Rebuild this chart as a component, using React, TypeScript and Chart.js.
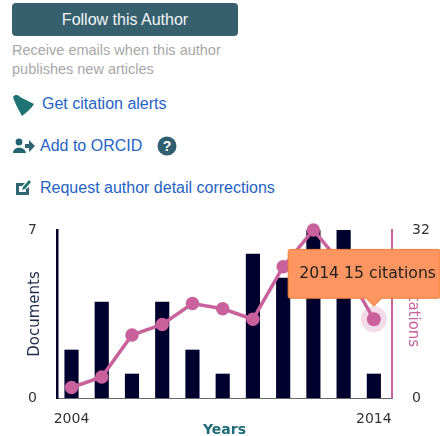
import React, { useEffect, useRef } from "react";
import { Chart, registerables } from "chart.js";

Chart.register(...registerables);

const years = [2004, 2005, 2006, 2007, 2008, 2009, 2010, 2011, 2012, 2013, 2014];
const documents = [2, 4, 1, 4, 2, 1, 6, 5, 7, 7, 1];
const citations = [2, 4, 12, 14, 18, 17, 15, 25, 32, 25, 15];
const leftTicks = [0, 7];
const rightTicks = [0, 32];
const xTicks = [2004, 2014];

const NAVY = "#00002e";
const PINK = "#c9619c";
const UI = '"Liberation Sans", Arial, sans-serif';
const CHART_FONT = '"DejaVu Sans", sans-serif';
const LINK = "#2563c4";

const text = (x: number, y: number, size: number, color: string): React.CSSProperties => ({
  position: "absolute",
  left: x,
  top: y,
  fontFamily: UI,
  fontSize: size,
  lineHeight: "20px",
  color,
  whiteSpace: "nowrap",
});

export default function App() {
  const ref = useRef<HTMLCanvasElement>(null);

  useEffect(() => {
    const fix = (w: number) => (s: any) => {
      s.width = w;
      s.paddingTop = 8;
      s.paddingBottom = 8;
    };
    const chart = new Chart(ref.current!, {
      type: "bar",
      data: {
        labels: years,
        datasets: [
          {
            type: "line",
            label: "Citations",
            data: years.map((y, i) => ({ x: y, y: citations[i] })),
            yAxisID: "y1",
            borderColor: PINK,
            backgroundColor: PINK,
            borderWidth: 3.5,
            pointRadius: 5,
            pointBackgroundColor: PINK,
            pointBorderColor: PINK,
            pointHoverRadius: 7,
            pointHoverBackgroundColor: PINK,
            pointHoverBorderColor: "rgba(201,97,156,0.22)",
            pointHoverBorderWidth: 12,
            tension: 0,
            clip: false,
            order: 1,
          },
          {
            type: "bar",
            label: "Documents",
            data: years.map((y, i) => ({ x: y, y: documents[i] })),
            yAxisID: "y",
            backgroundColor: NAVY,
            barThickness: 13.5,
            order: 2,
          },
        ],
      } as any,
      options: {
        animation: false,
        responsive: false,
        events: [],
        layout: { padding: { top: 15, left: 20, right: 8, bottom: 1 } },
        scales: {
          x: {
            type: "linear",
            offset: false,
            min: 2003.52,
            max: 2014.6,
            grid: { display: false, drawTicks: false, offset: false },
            border: { color: "#666", width: 1 },
            afterBuildTicks: (s: any) => {
              s.ticks = xTicks.map((value) => ({ value }));
            },
            afterFit: (s: any) => {
              s.height = 41;
            },
            ticks: {
              autoSkip: false,
              minRotation: 0,
              maxRotation: 0,
              padding: 12.6,
              color: "#333",
              font: { family: CHART_FONT, size: 14 },
              callback: (v: any) => String(v),
            },
            title: {
              display: true,
              text: "Years",
              color: "#1f6b7a",
              padding: 0,
              font: { family: CHART_FONT, size: 14, weight: "bold", lineHeight: 1.2 },
            },
          },
          y: {
            position: "left",
            min: 0,
            max: 7,
            grid: { display: false, drawTicks: false },
            border: { color: NAVY, width: 2.5 },
            afterBuildTicks: (s: any) => {
              s.ticks = leftTicks.map((value) => ({ value }));
            },
            afterFit: fix(37),
            ticks: {
              minRotation: 0,
              maxRotation: 0,
              padding: 20,
              color: "#333",
              font: { family: CHART_FONT, size: 14 },
              callback: (v: any) => String(v),
            },
            title: {
              display: true,
              text: "Documents",
              color: "#1c2a4a",
              padding: { top: 6, bottom: 0 },
              font: { family: CHART_FONT, size: 15, lineHeight: 1.2 },
            },
          },
          y1: {
            position: "right",
            min: 0,
            max: 32,
            grid: { display: false, drawTicks: false },
            border: { color: PINK, width: 2 },
            afterBuildTicks: (s: any) => {
              s.ticks = rightTicks.map((value) => ({ value }));
            },
            afterFit: fix(40),
            ticks: {
              minRotation: 0,
              maxRotation: 0,
              padding: 20,
              color: "#333",
              font: { family: CHART_FONT, size: 14 },
              callback: (v: any) => String(v),
            },
            title: {
              display: true,
              text: "Citations",
              color: PINK,
              padding: { top: 10.5, bottom: 0 },
              font: { family: CHART_FONT, size: 15, lineHeight: 1.2 },
            },
          },
        },
        plugins: {
          legend: { display: false },
          tooltip: {
            enabled: true,
            xAlign: "center",
            yAlign: "bottom",
            backgroundColor: "#ff9561",
            borderColor: "#f0803a",
            borderWidth: 1,
            cornerRadius: 2,
            caretSize: 8,
            caretPadding: 13,
            displayColors: false,
            bodyColor: "#222",
            bodyFont: { family: CHART_FONT, size: 15.7 },
            padding: { left: 11, right: 4, top: 15, bottom: 15 },
            callbacks: {
              title: () => "",
              label: (c: any) => `${years[c.dataIndex]} ${citations[c.dataIndex]} citations`,
            },
          },
        },
      },
    } as any);

    const last = years.length - 1;
    const active = [{ datasetIndex: 0, index: last }];
    chart.setActiveElements(active);
    const pt = chart.getDatasetMeta(0).data[last];
    chart.tooltip!.setActiveElements(active, { x: pt.x, y: pt.y });
    chart.update();

    return () => chart.destroy();
  }, []);

  return (
    <div style={{ position: "fixed", left: 0, top: 0, width: 440, height: 436, overflow: "hidden", background: "#fff" }}>
      <div
        style={{
          position: "absolute",
          left: 12,
          top: 3,
          width: 226,
          height: 33,
          borderRadius: 4,
          background: "#37606f",
          color: "#f2f5f6",
          fontFamily: UI,
          fontSize: 16,
          lineHeight: "33px",
          textAlign: "center",
        }}
      >
        Follow this Author
      </div>
      <div style={text(12, 40, 14.5, "#a8a8a8")}>Receive emails when this author</div>
      <div style={text(12, 59, 14.5, "#a8a8a8")}>publishes new articles</div>

      <svg style={{ position: "absolute", left: 12, top: 95 }} width="24" height="22" viewBox="0 0 24 22">
        <path d="M1 2 C3 -1 7 0 8 2 L22 9 C20 13 15 17 10 21 C8 17 4 11 1 2 Z" fill="#1f7372" />
      </svg>
      <div style={text(42, 94, 16, LINK)}>Get citation alerts</div>

      <svg style={{ position: "absolute", left: 12, top: 138 }} width="24" height="16" viewBox="0 0 24 16">
        <circle cx="7" cy="4" r="3.4" fill="#1f6670" />
        <path d="M1 15 C1 8 13 8 14 15 Z" fill="#1f6670" />
        <path d="M13 6 H17 V2 L23 8 L17 14 V10 H13 Z" fill="#2f6572" />
      </svg>
      <div style={text(40, 136, 16, LINK)}>Add to ORCID</div>
      <svg style={{ position: "absolute", left: 157, top: 136 }} width="20" height="20" viewBox="0 0 20 20">
        <circle cx="10" cy="10" r="9.5" fill="#2f5f70" />
        <text x="10" y="15" textAnchor="middle" fill="#fff" fontFamily={UI} fontWeight="bold" fontSize="14">?</text>
      </svg>

      <svg style={{ position: "absolute", left: 16, top: 179 }} width="16" height="17" viewBox="0 0 16 17">
        <path d="M0 4 H9 L6 7 H3 V13 H10 V10 L13 8 V16 H0 Z" fill="#2f6572" />
        <path d="M6 11 L7 8 L13 1 L15 3 L9 10 Z" fill="#1f7372" />
      </svg>
      <div style={text(40, 178, 16, LINK)}>Request author detail corrections</div>

      <canvas
        ref={ref}
        width={440}
        height={225}
        style={{ position: "absolute", left: 0, top: 215, width: 440, height: 225, display: "block" }}
      />
    </div>
  );
}
